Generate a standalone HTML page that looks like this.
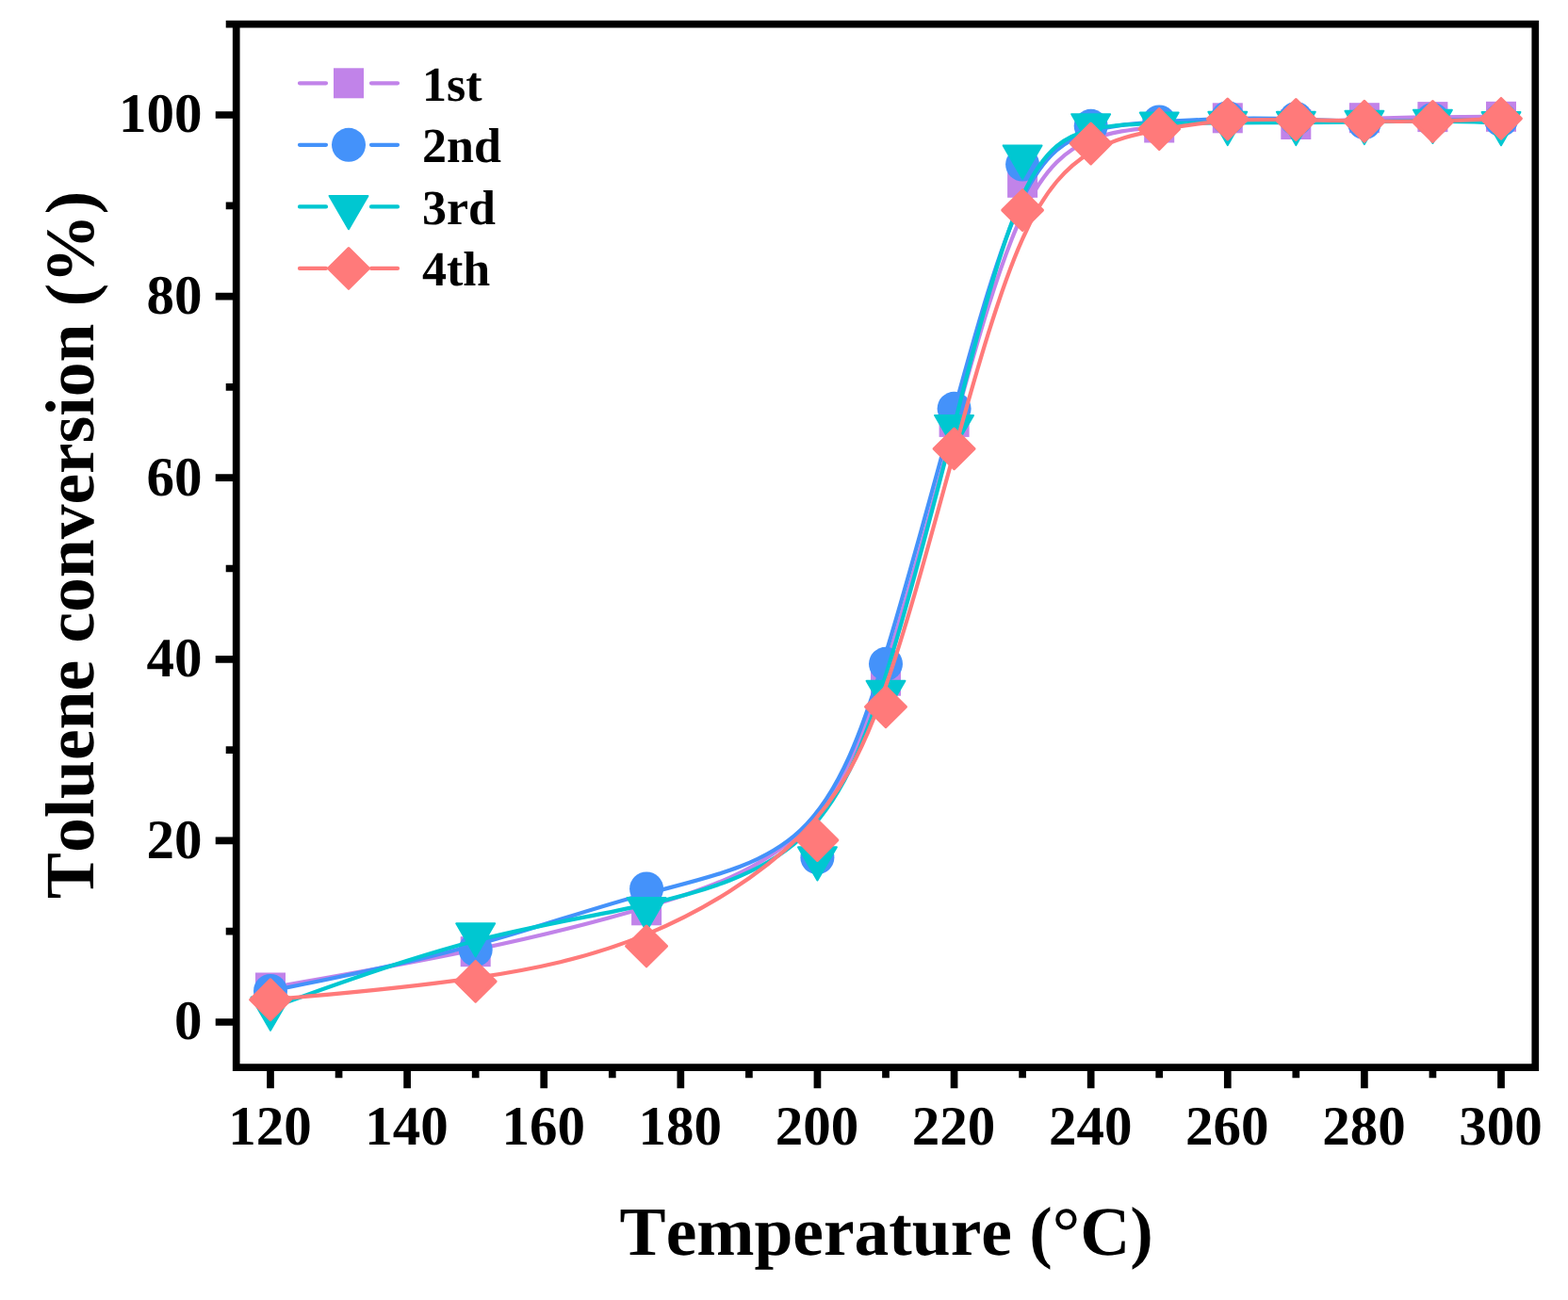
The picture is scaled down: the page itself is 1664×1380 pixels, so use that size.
<!DOCTYPE html>
<html lang="en"><head><meta charset="utf-8"><title>Toluene conversion vs temperature</title>
<style>html,body{margin:0;padding:0;background:#fff}body{width:1664px;height:1380px;overflow:hidden}svg{display:block}text{font-family:"Liberation Serif","DejaVu Serif",serif;font-weight:bold;fill:#000;font-kerning:none;font-variant-ligatures:none;text-rendering:geometricPrecision}.tk{font-size:59px}.lg{font-size:52px}.ti{font-size:73.5px}</style></head><body>
<svg width="1664" height="1380" viewBox="0 0 1664 1380">
<rect x="0" y="0" width="1664" height="1380" fill="#fff"/>
<g fill="none" stroke-linecap="round" stroke-linejoin="round">
<path d="M287,1048.5C287,1048.5 287,1048.5 323.28,1042.11C359.56,1035.73 432.11,1022.95 498.62,1009.24C565.13,995.54 625.59,980.9 686.06,962.96C746.52,945.01 806.98,923.76 849.31,883.17C891.63,842.58 915.81,782.65 940,706.88C964.19,631.11 988.37,539.49 1012.56,451.35C1036.74,363.2 1060.93,278.52 1085.11,227.26C1109.3,175.99 1133.48,158.14 1157.67,148.42C1181.85,138.69 1206.04,137.09 1230.22,134.58C1254.41,132.08 1278.59,128.68 1302.78,128.1C1326.96,127.52 1351.15,129.77 1375.33,129.75C1399.52,129.74 1423.7,127.46 1447.89,126.14C1472.07,124.82 1496.26,124.47 1520.44,124.25C1544.63,124.02 1568.81,123.93 1580.91,123.88C1593,123.83 1593,123.83 1593,123.83" stroke="#C183E9" stroke-width="4.2" fill="none"/>
<g stroke="none"><rect x="271" y="1032.5" width="32" height="32" fill="#C183E9"/><rect x="488.7" y="994.2" width="32" height="32" fill="#C183E9"/><rect x="670.1" y="950.3" width="32" height="32" fill="#C183E9"/><rect x="851.4" y="886.5" width="32" height="32" fill="#C183E9"/><rect x="924" y="706.7" width="32" height="32" fill="#C183E9"/><rect x="996.6" y="431.9" width="32" height="32" fill="#C183E9"/><rect x="1069.1" y="177.8" width="32" height="32" fill="#C183E9"/><rect x="1141.7" y="124.3" width="32" height="32" fill="#C183E9"/><rect x="1214.2" y="119.5" width="32" height="32" fill="#C183E9"/><rect x="1286.8" y="109.3" width="32" height="32" fill="#C183E9"/><rect x="1359.3" y="116" width="32" height="32" fill="#C183E9"/><rect x="1431.9" y="109.2" width="32" height="32" fill="#C183E9"/><rect x="1504.4" y="108.1" width="32" height="32" fill="#C183E9"/><rect x="1577" y="107.8" width="32" height="32" fill="#C183E9"/></g>
<path d="M287,1051.87C287,1051.87 287,1051.87 323.28,1044.55C359.56,1037.24 432.11,1022.6 498.62,1004.54C565.13,986.49 625.59,965.01 686.06,948.72C746.52,932.43 806.98,921.32 849.31,881.53C891.63,841.75 915.81,773.28 940,693.88C964.19,614.48 988.37,524.15 1012.56,435.78C1036.74,347.41 1060.93,260.99 1085.11,211C1109.3,161 1133.48,147.42 1157.67,139.9C1181.85,132.37 1206.04,130.89 1230.22,129.45C1254.41,128 1278.59,126.59 1302.78,126C1326.96,125.4 1351.15,125.63 1375.33,126.46C1399.52,127.3 1423.7,128.74 1447.89,128.93C1472.07,129.13 1496.26,128.07 1520.44,127.57C1544.63,127.07 1568.81,127.14 1580.91,127.17C1593,127.2 1593,127.2 1593,127.2" stroke="#4492FA" stroke-width="4.2" fill="none"/>
<g stroke="none"><circle cx="287" cy="1051.9" r="18" fill="#4492FA"/><circle cx="504.7" cy="1008" r="18" fill="#4492FA"/><circle cx="686.1" cy="943.5" r="18" fill="#4492FA"/><circle cx="867.4" cy="910.2" r="18" fill="#4492FA"/><circle cx="940" cy="704.8" r="18" fill="#4492FA"/><circle cx="1012.6" cy="433.8" r="18" fill="#4492FA"/><circle cx="1085.1" cy="174.6" r="18" fill="#4492FA"/><circle cx="1157.7" cy="133.8" r="18" fill="#4492FA"/><circle cx="1230.2" cy="129.4" r="18" fill="#4492FA"/><circle cx="1302.8" cy="125.2" r="18" fill="#4492FA"/><circle cx="1375.3" cy="125.9" r="18" fill="#4492FA"/><circle cx="1447.9" cy="130.2" r="18" fill="#4492FA"/><circle cx="1520.4" cy="127" r="18" fill="#4492FA"/><circle cx="1593" cy="127.2" r="18" fill="#4492FA"/></g>
<path d="M287,1069.98C287,1069.98 287,1069.98 323.28,1056.93C359.56,1043.88 432.11,1017.78 498.62,1000.21C565.13,982.63 625.59,973.58 686.06,960.08C746.52,946.58 806.98,928.64 849.31,890.27C891.63,851.89 915.81,793.08 940,716.7C964.19,640.32 988.37,546.36 1012.56,451.63C1036.74,356.91 1060.93,261.41 1085.11,208.11C1109.3,154.81 1133.48,143.7 1157.67,137.87C1181.85,132.05 1206.04,131.5 1230.22,131.12C1254.41,130.73 1278.59,130.51 1302.78,130.39C1326.96,130.28 1351.15,130.28 1375.33,130.12C1399.52,129.96 1423.7,129.64 1447.89,129.29C1472.07,128.93 1496.26,128.55 1520.44,128.74C1544.63,128.93 1568.81,129.7 1580.91,130.09C1593,130.47 1593,130.47 1593,130.47" stroke="#00C7D1" stroke-width="4.2" fill="none"/>
<g stroke="none"><polygon points="266.55,1058.53 307.45,1058.53 287,1093.78" fill="#00C7D1" stroke="#00C7D1" stroke-width="2" stroke-linejoin="round"/><polygon points="484.22,980.24 525.12,980.24 504.67,1015.49" fill="#00C7D1" stroke="#00C7D1" stroke-width="2" stroke-linejoin="round"/><polygon points="665.61,953.08 706.51,953.08 686.06,988.33" fill="#00C7D1" stroke="#00C7D1" stroke-width="2" stroke-linejoin="round"/><polygon points="846.99,899.25 887.89,899.25 867.44,934.5" fill="#00C7D1" stroke="#00C7D1" stroke-width="2" stroke-linejoin="round"/><polygon points="919.55,722.83 960.45,722.83 940,758.08" fill="#00C7D1" stroke="#00C7D1" stroke-width="2" stroke-linejoin="round"/><polygon points="992.11,440.96 1033.01,440.96 1012.56,476.21" fill="#00C7D1" stroke="#00C7D1" stroke-width="2" stroke-linejoin="round"/><polygon points="1064.66,154.46 1105.56,154.46 1085.11,189.71" fill="#00C7D1" stroke="#00C7D1" stroke-width="2" stroke-linejoin="round"/><polygon points="1137.22,121.14 1178.12,121.14 1157.67,156.39" fill="#00C7D1" stroke="#00C7D1" stroke-width="2" stroke-linejoin="round"/><polygon points="1209.77,119.51 1250.67,119.51 1230.22,154.76" fill="#00C7D1" stroke="#00C7D1" stroke-width="2" stroke-linejoin="round"/><polygon points="1282.33,118.83 1323.23,118.83 1302.78,154.08" fill="#00C7D1" stroke="#00C7D1" stroke-width="2" stroke-linejoin="round"/><polygon points="1354.88,118.83 1395.78,118.83 1375.33,154.08" fill="#00C7D1" stroke="#00C7D1" stroke-width="2" stroke-linejoin="round"/><polygon points="1427.44,117.87 1468.34,117.87 1447.89,153.12" fill="#00C7D1" stroke="#00C7D1" stroke-width="2" stroke-linejoin="round"/><polygon points="1499.99,116.71 1540.89,116.71 1520.44,151.96" fill="#00C7D1" stroke="#00C7D1" stroke-width="2" stroke-linejoin="round"/><polygon points="1572.55,119.02 1613.45,119.02 1593,154.27" fill="#00C7D1" stroke="#00C7D1" stroke-width="2" stroke-linejoin="round"/></g>
<path d="M287,1061.21C287,1061.21 287,1061.21 323.28,1057.99C359.56,1054.76 432.11,1048.31 498.62,1038.84C565.13,1029.37 625.59,1016.88 686.06,991.89C746.52,966.9 806.98,929.41 849.31,887.07C891.63,844.73 915.81,797.54 940,728.29C964.19,659.03 988.37,567.71 1012.56,479.83C1036.74,391.96 1060.93,307.54 1085.11,253.55C1109.3,199.55 1133.48,175.99 1157.67,161.64C1181.85,147.29 1206.04,142.16 1230.22,137.83C1254.41,133.49 1278.59,129.96 1302.78,128.29C1326.96,126.62 1351.15,126.81 1375.33,127.2C1399.52,127.59 1423.7,128.16 1447.89,128.5C1472.07,128.84 1496.26,128.93 1520.44,128.45C1544.63,127.97 1568.81,126.91 1580.91,126.38C1593,125.85 1593,125.85 1593,125.85" stroke="#FF7A7A" stroke-width="4.2" fill="none"/>
<g stroke="none"><polygon points="287,1039.81 308.4,1061.21 287,1082.61 265.6,1061.21" fill="#FF7A7A" stroke="#FF7A7A" stroke-width="3" stroke-linejoin="round"/><polygon points="504.67,1020.46 526.07,1041.86 504.67,1063.26 483.27,1041.86" fill="#FF7A7A" stroke="#FF7A7A" stroke-width="3" stroke-linejoin="round"/><polygon points="686.06,983 707.46,1004.4 686.06,1025.8 664.66,1004.4" fill="#FF7A7A" stroke="#FF7A7A" stroke-width="3" stroke-linejoin="round"/><polygon points="867.44,870.52 888.84,891.92 867.44,913.32 846.04,891.92" fill="#FF7A7A" stroke="#FF7A7A" stroke-width="3" stroke-linejoin="round"/><polygon points="940,728.96 961.4,750.36 940,771.76 918.6,750.36" fill="#FF7A7A" stroke="#FF7A7A" stroke-width="3" stroke-linejoin="round"/><polygon points="1012.56,454.98 1033.96,476.38 1012.56,497.78 991.16,476.38" fill="#FF7A7A" stroke="#FF7A7A" stroke-width="3" stroke-linejoin="round"/><polygon points="1085.11,201.71 1106.51,223.11 1085.11,244.51 1063.71,223.11" fill="#FF7A7A" stroke="#FF7A7A" stroke-width="3" stroke-linejoin="round"/><polygon points="1157.67,131.03 1179.07,152.43 1157.67,173.83 1136.27,152.43" fill="#FF7A7A" stroke="#FF7A7A" stroke-width="3" stroke-linejoin="round"/><polygon points="1230.22,115.62 1251.62,137.02 1230.22,158.42 1208.82,137.02" fill="#FF7A7A" stroke="#FF7A7A" stroke-width="3" stroke-linejoin="round"/><polygon points="1302.78,105.03 1324.18,126.43 1302.78,147.83 1281.38,126.43" fill="#FF7A7A" stroke="#FF7A7A" stroke-width="3" stroke-linejoin="round"/><polygon points="1375.33,105.61 1396.73,127.01 1375.33,148.41 1353.93,127.01" fill="#FF7A7A" stroke="#FF7A7A" stroke-width="3" stroke-linejoin="round"/><polygon points="1447.89,107.34 1469.29,128.74 1447.89,150.14 1426.49,128.74" fill="#FF7A7A" stroke="#FF7A7A" stroke-width="3" stroke-linejoin="round"/><polygon points="1520.44,107.63 1541.84,129.03 1520.44,150.43 1499.04,129.03" fill="#FF7A7A" stroke="#FF7A7A" stroke-width="3" stroke-linejoin="round"/><polygon points="1593,104.45 1614.4,125.85 1593,147.25 1571.6,125.85" fill="#FF7A7A" stroke="#FF7A7A" stroke-width="3" stroke-linejoin="round"/></g>
</g>
<g stroke="#000" stroke-width="7.7" fill="none" stroke-linecap="butt" stroke-linejoin="miter">
<path d="M250.72,25.7H1629.28V1133.15H250.72ZM250.72,1085H228.72M250.72,892.4H228.72M250.72,699.8H228.72M250.72,507.2H228.72M250.72,314.6H228.72M250.72,122H228.72M250.72,988.7H239.72M250.72,796.1H239.72M250.72,603.5H239.72M250.72,410.9H239.72M250.72,218.3H239.72M250.72,25.7H239.72M287,1133.15V1155.15M432.11,1133.15V1155.15M577.22,1133.15V1155.15M722.33,1133.15V1155.15M867.44,1133.15V1155.15M1012.56,1133.15V1155.15M1157.67,1133.15V1155.15M1302.78,1133.15V1155.15M1447.89,1133.15V1155.15M1593,1133.15V1155.15M359.56,1133.15V1144.15M504.67,1133.15V1144.15M649.78,1133.15V1144.15M794.89,1133.15V1144.15M940,1133.15V1144.15M1085.11,1133.15V1144.15M1230.22,1133.15V1144.15M1375.33,1133.15V1144.15M1520.44,1133.15V1144.15"/>
</g>
<g class="tk" text-anchor="end">
<text x="214.6" y="1103.3">0</text>
<text x="214.6" y="910.7">20</text>
<text x="214.6" y="718.1">40</text>
<text x="214.6" y="525.5">60</text>
<text x="214.6" y="332.9">80</text>
<text x="214.6" y="140.3">100</text>
</g>
<g class="tk" text-anchor="middle">
<text x="286.5" y="1214.8">120</text>
<text x="431.6" y="1214.8">140</text>
<text x="576.7" y="1214.8">160</text>
<text x="721.8" y="1214.8">180</text>
<text x="866.9" y="1214.8">200</text>
<text x="1012.1" y="1214.8">220</text>
<text x="1157.2" y="1214.8">240</text>
<text x="1302.3" y="1214.8">260</text>
<text x="1447.4" y="1214.8">280</text>
<text x="1592.5" y="1214.8">300</text>
</g>
<text class="ti" text-anchor="middle" x="940.7" y="1332.2">Temperature (°C)</text>
<text class="ti" text-anchor="middle" transform="translate(99,578.5) rotate(-90)">Toluene conversion (%)</text>
<g>
<path d="M318,88.3H346 M394,88.3H422" stroke="#C183E9" stroke-width="4.2" stroke-linecap="round" fill="none"/>
<rect x="354" y="72.3" width="32" height="32" fill="#C183E9"/>
<text class="lg" x="448" y="107.1">1st</text>
<path d="M318,153.8H346 M394,153.8H422" stroke="#4492FA" stroke-width="4.2" stroke-linecap="round" fill="none"/>
<circle cx="370" cy="153.8" r="18" fill="#4492FA"/>
<text class="lg" x="448" y="172.4">2nd</text>
<path d="M318,219.4H346 M394,219.4H422" stroke="#00C7D1" stroke-width="4.2" stroke-linecap="round" fill="none"/>
<polygon points="349.55,207.95 390.45,207.95 370,243.2" fill="#00C7D1" stroke="#00C7D1" stroke-width="2" stroke-linejoin="round"/>
<text class="lg" x="448" y="237.8">3rd</text>
<path d="M318,284.9H346 M394,284.9H422" stroke="#FF7A7A" stroke-width="4.2" stroke-linecap="round" fill="none"/>
<polygon points="370,263.5 391.4,284.9 370,306.3 348.6,284.9" fill="#FF7A7A" stroke="#FF7A7A" stroke-width="3" stroke-linejoin="round"/>
<text class="lg" x="448" y="303.1">4th</text>
</g>
</svg></body></html>
